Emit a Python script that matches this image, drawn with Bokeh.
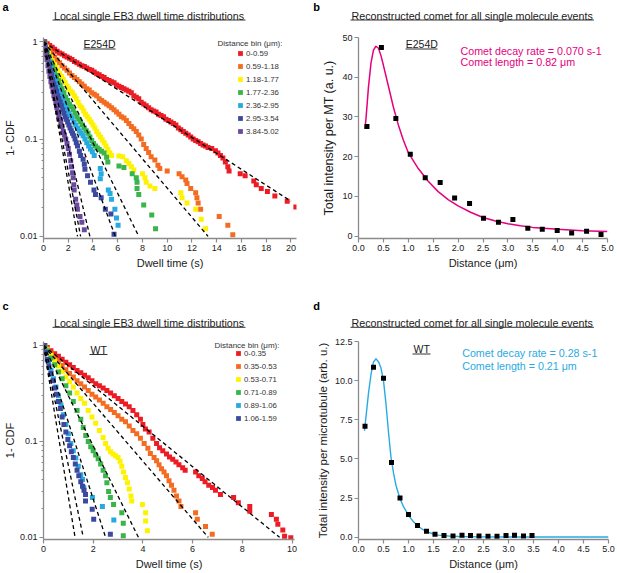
from bokeh.plotting import figure
from bokeh.layouts import column, row
from bokeh.models import (Range1d, Label, BoxAnnotation, Legend, LegendItem,
                          FixedTicker, NumeralTickFormatter)
from bokeh.embed import file_html
from bokeh.resources import INLINE

FONT = "Liberation Sans"

# ---------------- data: panel a (E254D dwell-time survival, 1-CDF) ----------------
a_labels = ["0-0.59", "0.59-1.18", "1.18-1.77", "1.77-2.36", "2.36-2.95", "2.95-3.54", "3.84-5.02"]
a_colors = ["#ED1C24", "#F36C21", "#FFF200", "#3AB54A", "#27AAE1", "#3B4AA0", "#6A4A9E"]

a_red = [(0.1,1.0),(0.3,0.96),(0.5,0.92),(0.7,0.88),(0.9,0.84),(1.1,0.80),(1.3,0.77),(1.5,0.75),(1.7,0.72),(1.9,0.70),
         (2.1,0.68),(2.3,0.66),(2.5,0.63),(2.7,0.61),(2.9,0.59),(3.1,0.57),(3.3,0.56),(3.5,0.54),(3.7,0.52),(3.9,0.51),
         (4.1,0.49),(4.3,0.47),(4.5,0.46),(4.7,0.44),(4.9,0.43),(5.1,0.41),(5.3,0.40),(5.5,0.39),(5.7,0.38),(5.9,0.36),
         (6.1,0.35),(6.3,0.34),(6.5,0.33),(6.7,0.32),(6.9,0.31),(7.1,0.30),(7.3,0.28),(7.5,0.27),(7.7,0.26),(7.9,0.24),
         (8.1,0.23),(8.3,0.22),(8.5,0.21),(8.7,0.20),(8.9,0.195),(9.1,0.19),(9.3,0.18),(9.5,0.175),(9.7,0.17),(9.9,0.16),
         (10.1,0.155),(10.3,0.15),(10.5,0.145),(10.7,0.14),(10.9,0.13),(11.1,0.125),(11.3,0.12),(11.5,0.115),(11.7,0.11),(11.9,0.105),
         (12.1,0.10),(12.3,0.097),(12.5,0.094),(12.7,0.09),(12.9,0.087),(13.1,0.085),(13.3,0.082),(13.6,0.08),(13.9,0.076),(14.1,0.072),
         (14.3,0.068),(14.5,0.064),(14.7,0.058),(14.9,0.052),(15.0,0.047),(15.9,0.044),(16.3,0.042),(17.0,0.037),(17.2,0.034),(17.6,0.031),
         (18.1,0.029),(18.7,0.026),(19.7,0.023),(20.4,0.020)]
a_orange = [(0.1,1.0),(0.3,0.9),(0.5,0.82),(0.7,0.76),(0.9,0.70),(1.1,0.65),(1.3,0.61),(1.5,0.57),(1.7,0.54),(1.9,0.51),
            (2.1,0.48),(2.3,0.45),(2.5,0.43),(2.7,0.41),(2.9,0.39),(3.1,0.37),(3.3,0.35),(3.5,0.33),(3.7,0.32),(3.9,0.30),
            (4.1,0.29),(4.3,0.28),(4.5,0.26),(4.7,0.25),(4.9,0.24),(5.1,0.23),(5.3,0.22),(5.5,0.21),(5.7,0.20),(5.9,0.19),
            (6.1,0.18),(6.3,0.17),(6.5,0.165),(6.7,0.155),(6.9,0.145),(7.1,0.135),(7.3,0.128),(7.5,0.12),(7.7,0.11),(7.9,0.10),
            (8.1,0.088),(8.3,0.08),(8.5,0.073),(8.7,0.066),(9.0,0.061),(9.25,0.054),(9.4,0.05),(10.0,0.047),(10.96,0.044),(11.2,0.041),
            (11.5,0.038),(11.6,0.035),(11.9,0.031),(12.3,0.028),(12.4,0.025),(12.5,0.022),(12.7,0.019),(14.2,0.016),(14.9,0.013),(15.3,0.0104)]
a_yellow = [(0.1,1.0),(0.25,0.88),(0.4,0.78),(0.55,0.70),(0.7,0.64),(0.85,0.59),(1.0,0.55),(1.15,0.51),(1.3,0.47),(1.45,0.44),
            (1.6,0.41),(1.75,0.38),(1.9,0.35),(2.05,0.33),(2.2,0.31),(2.35,0.30),(2.5,0.28),(2.65,0.26),(2.8,0.24),(2.95,0.22),
            (3.1,0.21),(3.25,0.195),(3.4,0.18),(3.55,0.17),(3.7,0.16),(3.85,0.15),(4.0,0.14),(4.15,0.13),(4.3,0.12),(4.45,0.112),
            (4.6,0.105),(4.75,0.098),(4.9,0.092),(5.05,0.085),(5.2,0.078),(5.35,0.072),(5.5,0.068),(6.1,0.067),(6.4,0.066),(6.7,0.06),
            (6.9,0.056),(7.1,0.052),(7.3,0.048),(8.0,0.044),(8.2,0.04),(8.3,0.036),(8.6,0.033),(9.0,0.031),(11.1,0.028),(11.2,0.025),
            (11.6,0.022),(12.3,0.019),(12.75,0.015),(13.1,0.012)]
a_green = [(0.05,1.0),(0.15,0.9),(0.3,0.8),(0.45,0.70),(0.6,0.62),(0.75,0.56),(0.9,0.50),(1.05,0.45),(1.2,0.40),(1.35,0.36),
           (1.5,0.33),(1.65,0.30),(1.8,0.27),(1.95,0.25),(2.1,0.23),(2.25,0.215),(2.4,0.20),(2.55,0.185),(2.7,0.17),(2.85,0.16),
           (3.0,0.15),(3.15,0.14),(3.3,0.13),(3.45,0.122),(3.6,0.115),(3.75,0.105),(3.9,0.097),(4.05,0.09),(4.2,0.085),(4.35,0.081),
           (4.5,0.078),(4.7,0.075),(4.9,0.072),(5.1,0.065),(5.2,0.058),(6.1,0.053),(6.5,0.051),(7.17,0.044),(7.5,0.040),(7.56,0.036),
           (7.56,0.031),(7.7,0.027),(8.1,0.021),(8.75,0.0166),(9.06,0.012)]
a_cyan = [(0.05,1.0),(0.15,0.88),(0.25,0.78),(0.35,0.69),(0.45,0.62),(0.55,0.56),(0.65,0.51),(0.75,0.47),(0.85,0.43),(0.95,0.40),
          (1.05,0.37),(1.15,0.34),(1.25,0.32),(1.35,0.30),(1.45,0.28),(1.55,0.26),(1.65,0.24),(1.75,0.225),(1.85,0.21),(1.95,0.195),
          (2.05,0.185),(2.15,0.175),(2.3,0.165),(2.45,0.15),(2.6,0.14),(2.75,0.13),(2.9,0.122),(3.05,0.115),(3.2,0.108),(3.35,0.10),
          (3.5,0.092),(3.65,0.085),(3.8,0.079),(3.95,0.074),(4.1,0.068),(4.59,0.05),(4.66,0.044),(4.59,0.039),(5.24,0.030),(5.38,0.0276),
          (5.5,0.024),(5.77,0.019),(5.9,0.0154),(6.03,0.013)]
a_blue = [(0.05,1.0),(0.15,0.85),(0.25,0.74),(0.35,0.65),(0.45,0.57),(0.55,0.51),(0.65,0.46),(0.75,0.41),(0.85,0.37),(0.95,0.34),
          (1.05,0.31),(1.15,0.28),(1.25,0.26),(1.35,0.24),(1.45,0.22),(1.55,0.20),(1.65,0.185),(1.75,0.17),(1.85,0.16),(1.95,0.15),
          (2.05,0.14),(2.15,0.13),(2.25,0.122),(2.35,0.115),(2.45,0.108),(2.55,0.10),(2.65,0.092),(2.75,0.085),(2.9,0.075),(3.0,0.068),
          (3.2,0.062),(3.3,0.055),(3.35,0.049),(3.56,0.042),(3.8,0.036),(4.08,0.030),(4.2,0.027),(4.66,0.025),(5.0,0.019),(5.45,0.017),
          (5.7,0.0105)]
a_purple = [(0.05,1.0),(0.12,0.88),(0.2,0.76),(0.28,0.66),(0.36,0.57),(0.44,0.50),(0.52,0.44),(0.6,0.39),(0.68,0.35),(0.76,0.31),
            (0.84,0.28),(0.92,0.26),(1.0,0.235),(1.08,0.21),(1.16,0.19),(1.24,0.175),(1.32,0.16),(1.4,0.15),(1.5,0.135),(1.6,0.12),
            (1.7,0.11),(1.8,0.10),(1.9,0.09),(2.0,0.08),(2.1,0.07),(2.2,0.06),(2.25,0.052),(2.35,0.045),(2.4,0.04),(2.45,0.034),
            (2.48,0.030),(2.6,0.024),(2.69,0.021),(2.74,0.019),(2.95,0.016),(3.1,0.014),(3.3,0.0117)]
a_series = [a_red, a_orange, a_yellow, a_green, a_cyan, a_blue, a_purple]
# single-exponential fits: end point of each dashed line (starts at t=0, 1-CDF=1)
a_fit_end_t = [20.0, 13.3, 7.7, 5.8, 3.75, 3.0, 2.75]
a_fit_end_v = [0.023, 0.01, 0.01, 0.01, 0.01, 0.01, 0.01]
a_xticks = [0, 2, 4, 6, 8, 10, 12, 14, 16, 18, 20]

# ---------------- data: panel b (E254D reconstructed comet) ----------------
b_dist = [0.17, 0.46, 0.75, 1.04, 1.34, 1.64, 1.93, 2.23, 2.51, 2.81, 3.10, 3.40, 3.69, 3.99, 4.28, 4.58, 4.87]
b_int = [27.6, 47.5, 29.6, 20.6, 14.7, 13.5, 9.6, 8.2, 4.5, 3.5, 4.2, 2.0, 1.7, 1.4, 0.8, 1.2, 0.4]
b_fit = [(0.13,27.0),(0.15,29.5),(0.2,37.5),(0.25,43.5),(0.3,46.8),(0.35,47.8),(0.4,47.3),(0.45,45.5),(0.5,43.0),(0.6,37.8),
         (0.7,32.5),(0.8,28.0),(0.9,24.2),(1.0,21.0),(1.2,17.0),(1.4,13.8),(1.6,11.2),(1.8,9.2),(2.0,7.6),(2.25,6.0),
         (2.5,4.7),(2.75,3.8),(3.0,3.1),(3.25,2.6),(3.5,2.2),(4.0,1.7),(4.5,1.35),(5.0,1.15)]
b_xticks = [0.0, 0.5, 1.0, 1.5, 2.0, 2.5, 3.0, 3.5, 4.0, 4.5, 5.0]
b_yticks = [0, 10, 20, 30, 40, 50]

# ---------------- data: panel c (WT dwell-time survival) ----------------
c_labels = ["0-0.35", "0.35-0.53", "0.53-0.71", "0.71-0.89", "0.89-1.06", "1.06-1.59"]
c_colors = ["#ED1C24", "#F36C21", "#FFF200", "#3AB54A", "#27AAE1", "#3B4AA0"]
c_red = [(0.05,1.0),(0.15,0.95),(0.3,0.88),(0.45,0.82),(0.6,0.77),(0.75,0.72),(0.9,0.67),(1.05,0.63),(1.2,0.59),(1.35,0.55),
         (1.5,0.52),(1.65,0.49),(1.8,0.46),(1.95,0.43),(2.1,0.40),(2.25,0.38),(2.4,0.36),(2.55,0.34),(2.7,0.32),(2.85,0.30),
         (3.0,0.28),(3.15,0.26),(3.3,0.245),(3.45,0.23),(3.6,0.21),(3.75,0.19),(3.9,0.17),(4.0,0.15),(4.1,0.135),(4.25,0.125),
         (4.4,0.108),(4.55,0.095),(4.67,0.086),(4.8,0.08),(4.95,0.074),(5.07,0.069),(5.2,0.065),(5.33,0.061),(5.45,0.057),(5.6,0.053),
         (5.7,0.05),(6.12,0.048),(6.25,0.044),(6.39,0.041),(6.5,0.038),(6.65,0.035),(6.8,0.033),(6.92,0.031),(7.12,0.028),(7.65,0.026),
         (7.84,0.023),(8.3,0.021),(8.3,0.0187),(9.17,0.0173),(9.37,0.0154),(9.43,0.0137),(9.63,0.0119),(9.7,0.0103),(9.95,0.0099)]
c_orange = [(0.05,1.0),(0.15,0.92),(0.3,0.83),(0.45,0.75),(0.6,0.68),(0.75,0.62),(0.9,0.56),(1.05,0.51),(1.2,0.47),(1.35,0.43),
            (1.5,0.40),(1.65,0.37),(1.8,0.34),(1.95,0.31),(2.1,0.29),(2.25,0.27),(2.4,0.25),(2.55,0.23),(2.7,0.215),(2.85,0.20),
            (3.0,0.185),(3.15,0.17),(3.3,0.16),(3.45,0.145),(3.6,0.13),(3.75,0.12),(3.9,0.108),(4.05,0.095),(4.2,0.085),(4.3,0.075),
            (4.45,0.068),(4.55,0.063),(4.65,0.057),(4.75,0.052),(4.85,0.048),(4.95,0.044),(5.05,0.039),(5.15,0.035),(5.25,0.031),(5.35,0.027),
            (5.45,0.024),(5.53,0.021),(6.12,0.018),(6.19,0.0154),(6.52,0.013),(6.79,0.0108)]
c_yellow = [(0.05,1.0),(0.15,0.9),(0.3,0.79),(0.45,0.69),(0.6,0.61),(0.75,0.54),(0.9,0.47),(1.05,0.42),(1.2,0.37),(1.35,0.32),
            (1.5,0.28),(1.65,0.25),(1.8,0.21),(1.95,0.18),(2.1,0.155),(2.25,0.13),(2.4,0.11),(2.5,0.095),(2.6,0.085),(2.7,0.078),
            (2.8,0.074),(2.9,0.071),(3.0,0.068),(3.08,0.062),(3.15,0.055),(3.22,0.048),(3.3,0.042),(3.38,0.037),(3.45,0.032),(3.52,0.027),
            (3.55,0.024),(3.98,0.022),(4.11,0.018),(4.11,0.0148),(4.18,0.0117)]
c_green = [(0.05,1.0),(0.15,0.88),(0.3,0.74),(0.45,0.63),(0.6,0.53),(0.75,0.45),(0.9,0.38),(1.05,0.32),(1.2,0.26),(1.35,0.21),
           (1.5,0.17),(1.6,0.14),(1.7,0.115),(1.8,0.10),(1.9,0.088),(2.0,0.08),(2.1,0.072),(2.2,0.066),(2.3,0.058),(2.4,0.05),
           (2.5,0.044),(2.55,0.037),(2.62,0.030),(2.69,0.026),(2.82,0.022),(3.15,0.018),(3.21,0.014),(3.21,0.0104)]
c_cyan = [(0.03,1.0),(0.1,0.85),(0.2,0.68),(0.3,0.55),(0.4,0.45),(0.5,0.37),(0.6,0.30),(0.7,0.24),(0.8,0.19),(0.9,0.15),
          (1.0,0.12),(1.1,0.095),(1.2,0.08),(1.3,0.067),(1.4,0.055),(1.5,0.045),(1.57,0.04),(1.62,0.033),(1.97,0.026),(2.37,0.021),
          (2.83,0.0152)]
c_blue = [(0.03,1.0),(0.08,0.85),(0.15,0.72),(0.22,0.61),(0.3,0.51),(0.38,0.43),(0.45,0.36),(0.52,0.31),(0.6,0.26),(0.68,0.22),
          (0.75,0.18),(0.82,0.15),(0.9,0.125),(0.98,0.105),(1.05,0.09),(1.12,0.078),(1.2,0.068),(1.28,0.058),(1.35,0.05),(1.42,0.044),
          (1.5,0.038),(1.57,0.034),(1.63,0.031),(1.69,0.028),(1.69,0.024),(1.96,0.0196),(2.02,0.0154),(2.69,0.0108)]
c_series = [c_red, c_orange, c_yellow, c_green, c_cyan, c_blue]
c_fit_end_t = [9.5, 6.63, 3.82, 2.5, 1.6, 1.27]
c_fit_end_v = [0.01, 0.01, 0.01, 0.01, 0.01, 0.01]
c_xticks = [0, 2, 4, 6, 8, 10]

# ---------------- data: panel d (WT reconstructed comet) ----------------
d_dist = [0.13, 0.30, 0.50, 0.66, 0.83, 1.00, 1.18, 1.36, 1.53, 1.71, 1.89, 2.07, 2.24, 2.41, 2.59, 2.77, 2.95, 3.12, 3.30, 3.47]
d_int = [7.09, 10.85, 10.16, 4.77, 2.5, 1.44, 0.75, 0.38, 0.19, 0.10, 0.08, 0.12, 0.10, 0.08, 0.06, 0.06, 0.10, 0.12, 0.08, 0.10]
d_fit = [(0.12,6.8),(0.15,7.7),(0.2,9.2),(0.25,10.4),(0.3,11.2),(0.35,11.4),(0.4,11.2),(0.45,10.8),(0.5,10.0),(0.55,8.5),
         (0.6,6.7),(0.65,5.1),(0.7,4.1),(0.75,3.3),(0.83,2.45),(0.9,1.95),(1.0,1.4),(1.1,0.98),(1.2,0.68),(1.3,0.46),
         (1.4,0.3),(1.5,0.2),(1.6,0.13),(1.8,0.07),(2.0,0.04),(2.5,0.02),(3.0,0.012),(4.0,0.01),(5.0,0.01)]
d_xticks = [0.0, 0.5, 1.0, 1.5, 2.0, 2.5, 3.0, 3.5, 4.0, 4.5, 5.0]
d_yticks = [0.0, 2.5, 5.0, 7.5, 10.0, 12.5]

log_ticks = [0.01, 0.1, 1]
log_minor = [0.02, 0.03, 0.04, 0.05, 0.06, 0.07, 0.08, 0.09, 0.2, 0.3, 0.4, 0.5, 0.6, 0.7, 0.8, 0.9]

TITLE_LEFT = "Local single EB3 dwell time distributions"
TITLE_RIGHT = "Reconstructed comet for all single molecule events"

MAGENTA = "#E5007E"
CYAN = "#29ABE2"
AX = "#8a8a8a"
TXT = "#1a1a1a"


def make_fig(w, h, bl, br, bt, bb, xr, yr, log=False):
    p = figure(width=w, height=h, output_backend="svg", toolbar_location=None, title=None,
               x_range=Range1d(*xr), y_range=Range1d(*yr),
               y_axis_type="log" if log else "linear",
               min_border_left=bl, min_border_right=br, min_border_top=bt, min_border_bottom=bb)
    p.grid.visible = False
    p.outline_line_color = None
    for ax in p.axis:
        ax.axis_line_color = AX
        ax.axis_line_width = 1.3
        ax.major_tick_line_color = AX
        ax.major_tick_line_width = 1.2
        ax.major_tick_out = 4
        ax.major_tick_in = 0
        ax.minor_tick_line_color = None
        ax.major_label_text_font = FONT
        ax.major_label_text_font_size = "9px"
        ax.major_label_text_color = TXT
        ax.major_label_standoff = 2
        ax.axis_label_text_font = FONT
        ax.axis_label_text_font_size = "11px"
        ax.axis_label_text_font_style = "normal"
        ax.axis_label_text_color = TXT
        ax.axis_label_standoff = 3
    if log:
        p.yaxis.ticker = FixedTicker(ticks=log_ticks, minor_ticks=log_minor)
        p.yaxis.major_label_overrides = {0.01: "0.01", 0.1: "0.1", 1: "1"}
        p.yaxis.minor_tick_line_color = AX
        p.yaxis.minor_tick_out = 2
        p.yaxis.minor_tick_in = 0
        p.yaxis.axis_label_standoff = 1
    return p


def header(w, h, items):
    """Strip above a row holding panel letters and underlined titles (pixel coords, y down)."""
    p = figure(width=w, height=h, output_backend="svg", toolbar_location=None, title=None,
               x_range=Range1d(0, w), y_range=Range1d(h, 0),
               x_axis_type=None, y_axis_type=None,
               min_border=0, min_border_left=0, min_border_right=0, min_border_top=0, min_border_bottom=0)
    p.grid.visible = False
    p.outline_line_color = None
    for letter, lx, ly, title, tx, ty, half in items:
        p.add_layout(Label(x=lx, y=ly, text=letter, text_font=FONT, text_font_size="11px",
                           text_font_style="bold", text_color="black",
                           text_align="center", text_baseline="middle"))
        p.add_layout(Label(x=tx, y=ty, text=title, text_font=FONT, text_font_size="10.7px",
                           text_color=TXT, text_align="center", text_baseline="middle"))
        p.segment(x0=[tx - half], y0=[ty + 4.5], x1=[tx + half], y1=[ty + 4.5],
                  line_color="#333333", line_width=1)
    return p


def txt(p, x, y, s, size="10.5px", color=TXT, align="center", style="normal"):
    p.add_layout(Label(x=x, y=y, x_units="screen", y_units="screen", text=s,
                       text_font=FONT, text_font_size=size, text_color=color,
                       text_align=align, text_baseline="middle", text_font_style=style))


def uline(p, x0, x1, y, color="#333333"):
    p.add_layout(BoxAnnotation(left=x0, right=x1, bottom=y, top=y + 1,
                               left_units="screen", right_units="screen",
                               bottom_units="screen", top_units="screen",
                               fill_color=color, fill_alpha=1, line_color=None, level="overlay"))


def survival_panel(p, series, colors, labels, fit_t, fit_v, leg_x, leg_y):
    rends = []
    for s, col in zip(series, colors):
        xs = [q[0] for q in s]
        ys = [q[1] for q in s]
        rends.append(p.scatter(xs, ys, marker="square", size=5, fill_color=col, line_color=None))
    p.multi_line(xs=[[0, t] for t in fit_t], ys=[[1, v] for v in fit_v],
                 line_color="black", line_width=1.3, line_dash="4 3")
    leg = Legend(items=[LegendItem(label=l, renderers=[r]) for l, r in zip(labels, rends)],
                 location=(leg_x, leg_y), padding=0, margin=0, spacing=1,
                 glyph_width=12, glyph_height=12, label_height=12, label_standoff=-2,
                 label_text_font=FONT, label_text_font_size="7.8px", label_text_color="#333333",
                 border_line_color=None, background_fill_alpha=0)
    p.add_layout(leg)


# ---------------- header rows (panel letters + underlined titles) ----------------
h1 = header(617, 30, [("a", 5, 6, TITLE_LEFT, 148.5, 15, 96.5),
                      ("b", 316, 6, TITLE_RIGHT, 471.7, 15, 121.7)])
h2 = header(617, 40, [("c", 5, 15, TITLE_LEFT, 148.5, 32.3, 96.5),
                      ("d", 316, 15, TITLE_RIGHT, 471.7, 32.3, 121.7)])

# ---------------- panel a ----------------
pa = make_fig(310, 260, 38, 14, 5, 52, (0, 20.45), (0.0095, 1.11), log=True)
pa.xaxis.ticker = FixedTicker(ticks=a_xticks)
pa.xaxis.axis_label = "Dwell time (s)"
pa.yaxis.axis_label = "1- CDF"
survival_panel(pa, a_series, a_colors, a_labels, a_fit_end_t, a_fit_end_v, 191, 101)
txt(pa, 239, 195.3, "Distance bin (\u03bcm):", size="8px", color="#333333", align="right")
txt(pa, 56, 194.7, "E254D")
uline(pa, 40, 72, 189)

# ---------------- panel b ----------------
pb = make_fig(307, 260, 48, 10, 7, 52, (0, 5), (-0.6, 50))
pb.xaxis.ticker = FixedTicker(ticks=b_xticks)
pb.xaxis.formatter = NumeralTickFormatter(format="0.0")
pb.yaxis.ticker = FixedTicker(ticks=b_yticks)
pb.xaxis.axis_label = "Distance (\u03bcm)"
pb.yaxis.axis_label = "Total intensity per MT (a. u.)"
pb.yaxis.axis_label_text_font_size = "12.5px"
pb.line([q[0] for q in b_fit], [q[1] for q in b_fit], line_color=MAGENTA, line_width=1.5)
pb.scatter(b_dist, b_int, marker="square", size=5, fill_color="black", line_color=None)
txt(pb, 63.3, 194.7, "E254D")
uline(pb, 47, 79, 189)
txt(pb, 102, 188, "Comet decay rate = 0.070 s-1", size="10.7px", color=MAGENTA, align="left")
txt(pb, 102, 176.3, "Comet length = 0.82 \u03bcm", size="10.7px", color=MAGENTA, align="left")

# ---------------- panel c ----------------
pc = make_fig(310, 242, 39, 16, 11, 32, (0, 10.1), (0.0095, 1.1), log=True)
pc.xaxis.ticker = FixedTicker(ticks=c_xticks)
pc.xaxis.axis_label = "Dwell time (s)"
pc.yaxis.axis_label = "1- CDF"
survival_panel(pc, c_series, c_colors, c_labels, c_fit_end_t, c_fit_end_v, 189, 115)
txt(pc, 236, 194, "Distance bin (\u03bcm):", size="8px", color="#333333", align="right")
txt(pc, 55.2, 190, "WT")
uline(pc, 46, 64, 184.5)

# ---------------- panel d ----------------
pd_ = make_fig(307, 242, 48, 9, 11, 32, (0, 5), (-0.15, 12.5))
pd_.xaxis.ticker = FixedTicker(ticks=d_xticks)
pd_.xaxis.formatter = NumeralTickFormatter(format="0.0")
pd_.yaxis.ticker = FixedTicker(ticks=d_yticks)
pd_.yaxis.formatter = NumeralTickFormatter(format="0.0")
pd_.xaxis.axis_label = "Distance (\u03bcm)"
pd_.yaxis.axis_label = "Total intensity per microtubule (arb. u.)"
pd_.yaxis.axis_label_text_font_size = "11.5px"
pd_.line([q[0] for q in d_fit], [q[1] for q in d_fit], line_color=CYAN, line_width=1.4)
pd_.scatter(d_dist, d_int, marker="square", size=5, fill_color="black", line_color=None)
txt(pd_, 63.2, 190.7, "WT")
uline(pd_, 54, 72, 185)
txt(pd_, 103.7, 186.7, "Comet decay rate = 0.28 s-1", size="10.7px", color=CYAN, align="left")
txt(pd_, 103.7, 173.3, "Comet length = 0.21 \u03bcm", size="10.7px", color=CYAN, align="left")

layout = column(h1, row(pa, pb), h2, row(pc, pd_))
open("out.html", "w").write(file_html(layout, INLINE))
